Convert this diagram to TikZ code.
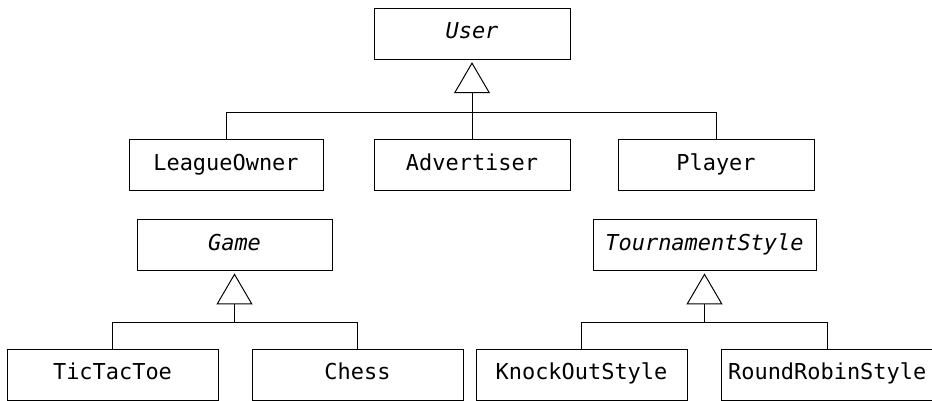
\documentclass[tikz,border=0pt]{standalone}
\usepackage{fontspec}
\setmonofont{DejaVu Sans Mono}
\usetikzlibrary{arrows.meta}
\begin{document}
\begin{tikzpicture}[
    line width=0.7pt,
    class/.style={draw, minimum height=1.275cm, inner sep=0pt,
      text height=0.73em, text depth=0pt,
      font=\fontsize{15.6}{18}\selectfont\ttfamily},
    abstract/.style={class, font=\fontsize{15.6}{18}\selectfont\ttfamily\itshape},
    inherit/.style={-{Triangle[open, length=0.775cm, width=0.9cm]}, shorten >=0.06cm}
  ]
  \useasboundingbox (0,0) rectangle (23.3,10.025);
  % User and its subclasses
  \node[abstract, minimum width=4.9cm] (User) at (11.8, 9.18) {User};
  \node[class, minimum width=4.85cm] (LeagueOwner) at (5.65, 5.89) {LeagueOwner};
  \node[class, minimum width=4.9cm] (Advertiser) at (11.8, 5.89) {Advertiser};
  \node[class, minimum width=4.9cm] (Player) at (17.9, 5.89) {Player};
  \draw (LeagueOwner.north) -- ++(0,0.675) -| (Player.north);
  \draw[inherit] (Advertiser.north) -- (User.south);
  % Game: TicTacToe, Chess
  \node[abstract, minimum width=4.875cm] (Game) at (5.8625, 3.9) {Game};
  \node[class, minimum width=5.275cm] (TicTacToe) at (2.8125, 0.6625) {TicTacToe};
  \node[class, minimum width=5.275cm] (Chess) at (8.9375, 0.6625) {Chess};
  \draw (TicTacToe.north) -- ++(0,0.65) -| (Chess.north);
  \draw[inherit] (Game.south |- TicTacToe.north) ++(0,0.65) -- (Game.south);
  % TournamentStyle: KnockOutStyle, RoundRobinStyle
  \node[abstract, minimum width=5.575cm] (TournamentStyle) at (17.6125, 3.9) {TournamentStyle};
  \node[class, minimum width=5.275cm] (KnockOutStyle) at (14.5375, 0.6625) {KnockOutStyle};
  \node[class, minimum width=5.275cm] (RoundRobinStyle) at (20.68, 0.6625) {RoundRobinStyle};
  \draw (KnockOutStyle.north) -- ++(0,0.65) -| (RoundRobinStyle.north);
  \draw[inherit] (TournamentStyle.south |- KnockOutStyle.north) ++(0,0.65) -- (TournamentStyle.south);
\end{tikzpicture}
\end{document}
